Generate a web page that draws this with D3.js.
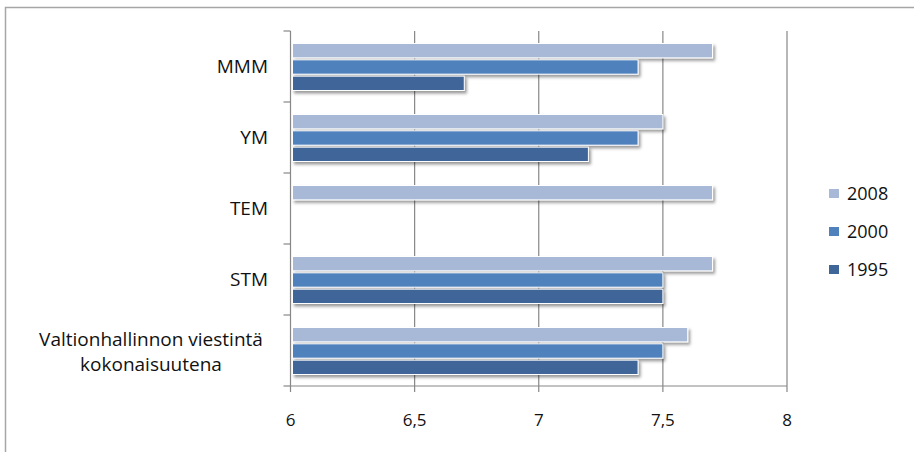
<!DOCTYPE html>
<html>
<head>
<meta charset="utf-8">
<script src="https://cdn.jsdelivr.net/npm/d3@7"></script>
<style>
  body { margin: 0; background: #fff; }
  text { font-family: "Open Sans", "Liberation Sans", Arial, sans-serif; fill: #111; }
</style>
</head>
<body>
<div id="canvas"></div>
<script>
const categories = ["MMM", "YM", "TEM", "STM", "Valtionhallinnon viestintä\nkokonaisuutena"];
const series = ["2008", "2000", "1995"];
const v2008 = [7.7, 7.5, 7.7, 7.7, 7.6];
const v2000 = [7.4, 7.4, null, 7.5, 7.5];
const v1995 = [6.7, 7.2, null, 7.5, 7.4];
const ticks = [6, 6.5, 7, 7.5, 8];
const colors = { "2008": "#a8b9d8", "2000": "#4f81bd", "1995": "#3f6699" };

const values = { "2008": v2008, "2000": v2000, "1995": v1995 };

const width = 914, height = 452;
const svg = d3.select("#canvas").append("svg")
    .attr("width", width).attr("height", height);

// outer frame
svg.append("rect")
    .attr("x", 5.5).attr("y", 7.5)
    .attr("width", width + 10).attr("height", height + 10)
    .attr("fill", "none").attr("stroke", "#a6a6a6").attr("stroke-width", 1.5);

const defs = svg.append("defs");
defs.append("filter").attr("id", "shadow")
    .attr("x", "-5%").attr("y", "-30%").attr("width", "110%").attr("height", "180%")
    .append("feDropShadow")
    .attr("dx", 2).attr("dy", 2.5).attr("stdDeviation", 1.6)
    .attr("flood-color", "#000").attr("flood-opacity", 0.4);

const x = d3.scaleLinear().domain([6, 8]).range([290.5, 787]);
const y = d3.scaleBand().domain(categories).range([31, 386]);
const yi = d3.scaleBand().domain(series).range([12.5, 59.5]).paddingInner(0.12);

// grid lines
svg.append("g").selectAll("line").data(ticks.slice(1)).enter().append("line")
    .attr("x1", d => x(d)).attr("x2", d => x(d))
    .attr("y1", 31).attr("y2", 392)
    .attr("stroke", "#878787").attr("stroke-width", 1.2);

// bars
const g = svg.append("g");
categories.forEach((c, i) => {
    series.forEach(s => {
        const v = values[s][i];
        if (v == null) return;
        g.append("rect")
            .attr("x", x(6) + 2)
            .attr("y", y(c) + yi(s))
            .attr("width", x(v) - x(6) - 2)
            .attr("height", yi.bandwidth())
            .attr("fill", colors[s])
            .attr("stroke", "#fff").attr("stroke-width", 1)
            .attr("filter", "url(#shadow)");
    });
});

// left axis
const ax = svg.append("g").attr("stroke", "#878787").attr("stroke-width", 1.2);
ax.append("line").attr("x1", x(6)).attr("x2", x(6)).attr("y1", 31).attr("y2", 392);
ax.selectAll(".ct").data(categories.map(c => y(c)).concat([386])).enter().append("line")
    .attr("x1", x(6) - 7).attr("x2", x(6)).attr("y1", d => d).attr("y2", d => d);
ax.append("line").attr("x1", x(6)).attr("x2", x(8)).attr("y1", 386).attr("y2", 386);

// tick labels
svg.append("g").selectAll("text").data(ticks).enter().append("text")
    .attr("x", d => x(d)).attr("y", 426)
    .attr("text-anchor", "middle").attr("font-size", 17)
    .text(d => String(d).replace(".", ","));

// category labels
categories.forEach(c => {
    const lines = c.split("\n");
    const cy = y(c) + y.bandwidth() / 2;
    if (lines.length === 1) {
        svg.append("text").attr("x", 268).attr("y", cy + 6)
            .attr("text-anchor", "end").attr("font-size", 19).text(c);
    } else {
        lines.forEach((l, k) => {
            svg.append("text").attr("x", 151).attr("y", cy - 5 + k * 25)
                .attr("text-anchor", "middle").attr("font-size", 19).text(l);
        });
    }
});

// legend
const leg = svg.append("g");
series.forEach((s, i) => {
    const ly = 194 + i * 38;
    leg.append("rect").attr("x", 829).attr("y", ly - 5).attr("width", 10).attr("height", 9)
        .attr("fill", colors[s]);
    leg.append("text").attr("x", 847).attr("y", ly + 6).attr("font-size", 18).text(s);
});
</script>
</body>
</html>
